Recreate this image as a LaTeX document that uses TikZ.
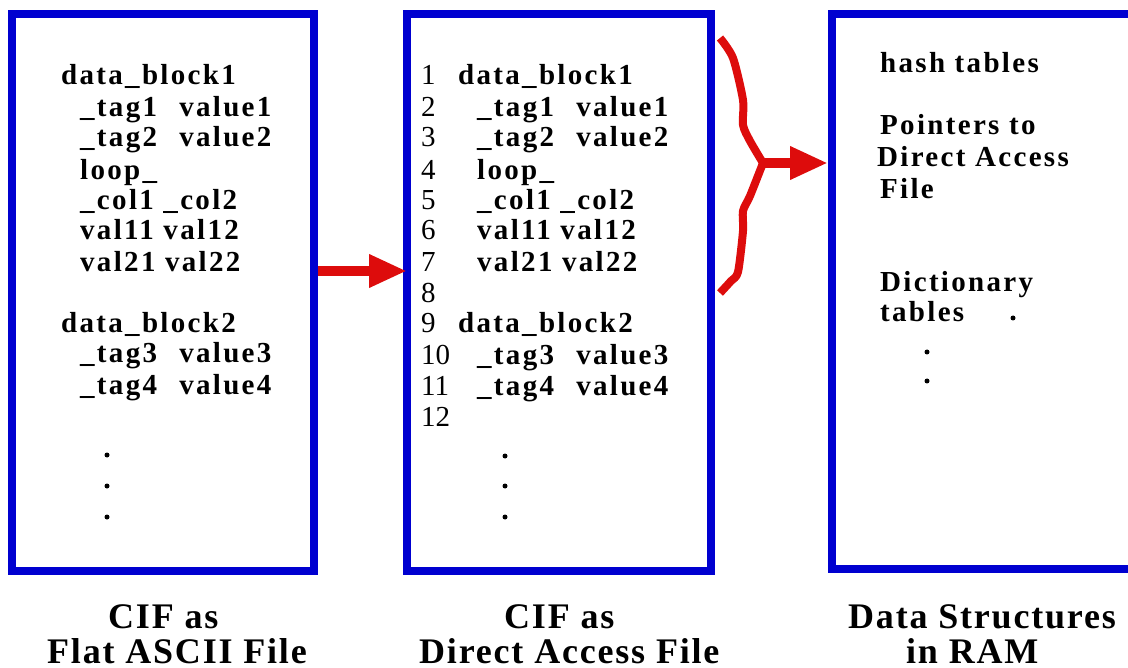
\documentclass[tikz,border=0pt]{standalone}
\usepackage{fontspec}
\setmainfont{Liberation Serif}
\newfontfamily\codefont{Liberation Serif}[LetterSpace=8]
\newfontfamily\capfont{Liberation Serif}[LetterSpace=5]
\usetikzlibrary{arrows.meta}
\definecolor{cifblue}{RGB}{0,0,208}
\definecolor{cifred}{RGB}{221,12,12}
\newcommand\tagvalsep{~~\hspace{3pt}}
\tikzset{
  panel/.style={draw=cifblue, line width=8pt, outer sep=4pt, inner sep=0pt},
  code/.style={anchor=base west, inner sep=0pt, font=\codefont\bfseries\fontsize{29}{31}\selectfont},
  lnum/.style={anchor=base west, inner sep=0pt, font=\rmfamily\fontsize{29}{31}\selectfont},
  caption/.style={anchor=base west, inner sep=0pt, font=\capfont\bfseries\fontsize{36}{40}\selectfont},
  flow/.style={draw=cifred, line width=10pt, -{Triangle[length=38pt,width=31pt]}},
  brace/.style={draw=cifred, line width=8pt, line join=round},
  dot/.style={circle, fill=black, inner sep=0pt, minimum size=5pt}
}
\begin{document}
\begin{tikzpicture}[x=1pt,y=-1pt]
\useasboundingbox (0,0) rectangle (1128,668);
\clip (0,0) rectangle (1128,668);

% the three panels
\node[panel, minimum width=302pt, minimum height=557pt] (box1) at (163,292.5) {};
\node[panel, minimum width=304pt, minimum height=557pt] (box2) at (559,292.5) {};
\node[panel, minimum width=316pt, minimum height=555pt] (box3) at (990,291.5) {};

% flat file contents
\node[code] (f1)  at (61,85)  {data\_block1};
\node[code] (f2)  at (80,117) {\_tag1\tagvalsep value1};
\node[code] (f3)  at (80,147) {\_tag2\tagvalsep value2};
\node[code] (f4)  at (80,180) {loop\_};
\node[code] (f5)  at (80,210) {\_col1 \_col2};
\node[code] (f6)  at (80,240) {val11 val12};
\node[code] (f7)  at (80,272) {val21 val22};
\node[code] (f9)  at (61,333) {data\_block2};
\node[code] (f10) at (80,363) {\_tag3\tagvalsep value3};
\node[code] (f11) at (80,395) {\_tag4\tagvalsep value4};
\node[dot] (fd1) at (107,455) {};
\node[dot] (fd2) at (107,486) {};
\node[dot] (fd3) at (107,517) {};

% direct access file: line numbers
\node[lnum] (n1)  at (421,85)  {1};
\node[lnum] (n2)  at (421,117) {2};
\node[lnum] (n3)  at (421,147) {3};
\node[lnum] (n4)  at (421,180) {4};
\node[lnum] (n5)  at (421,210) {5};
\node[lnum] (n6)  at (421,240) {6};
\node[lnum] (n7)  at (421,272) {7};
\node[lnum] (n8)  at (421,303) {8};
\node[lnum] (n9)  at (421,333) {9};
\node[lnum] (n10) at (421,365) {10};
\node[lnum] (n11) at (421,396) {11};
\node[lnum] (n12) at (421,427) {12};

% direct access file: records
\node[code] (d1)  at (458,85)  {data\_block1};
\node[code] (d2)  at (477,117) {\_tag1\tagvalsep value1};
\node[code] (d3)  at (477,147) {\_tag2\tagvalsep value2};
\node[code] (d4)  at (477,180) {loop\_};
\node[code] (d5)  at (477,210) {\_col1 \_col2};
\node[code] (d6)  at (477,240) {val11 val12};
\node[code] (d7)  at (477,272) {val21 val22};
\node[code] (d9)  at (458,333) {data\_block2};
\node[code] (d10) at (477,365) {\_tag3\tagvalsep value3};
\node[code] (d11) at (477,396) {\_tag4\tagvalsep value4};
\node[dot] (dd1) at (505,456) {};
\node[dot] (dd2) at (505,486) {};
\node[dot] (dd3) at (505,517) {};

% in-memory structures
\node[code] (r1) at (880,73)  {hash tables};
\node[code] (r2) at (880,135) {Pointers to};
\node[code] (r3) at (877,167) {Direct Access};
\node[code] (r4) at (880,199) {File};
\node[code] (r5) at (880,292) {Dictionary};
\node[code] (r6) at (880,322) {tables};
\node[dot] (rd1) at (1013,318) {};
\node[dot] (rd2) at (927,352) {};
\node[dot] (rd3) at (927,381) {};

% captions
\node[caption] (c1a) at (108,628) {CIF as};
\node[caption] (c1b) at (47,663)  {Flat ASCII File};
\node[caption] (c2a) at (504,628) {CIF as};
\node[caption] (c2b) at (419,663) {Direct Access File};
\node[caption] (c3a) at (848,628) {Data Structures};
\node[caption] (c3b) at (906,663) {in RAM};

% flat file -> direct access file
\coordinate (lvl1) at (0,271);
\draw[flow, shorten >=-4pt] (box1.east |- lvl1) -- (box2.west |- lvl1);

% brace gathering the records, and the load arrow
\coordinate (bt) at (763,163);
\draw[brace] plot[smooth, tension=0.45] coordinates {
  (720,38) (733,58) (743,100) (743,125) (750,141) (bt)};
\draw[brace] plot[smooth, tension=0.45] coordinates {
  (bt) (750,196) (743,211) (743,231) (738,272) (731,281) (720,293)};
\draw[flow] (bt) -- (box3.west |- bt);
\end{tikzpicture}
\end{document}
